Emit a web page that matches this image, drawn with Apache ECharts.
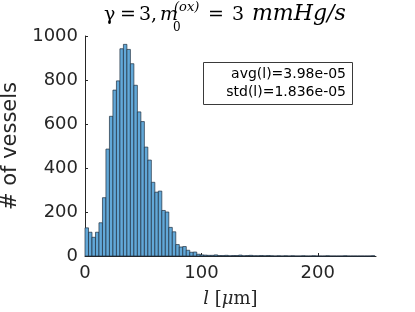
<!DOCTYPE html>
<html>
<head>
<meta charset="utf-8">
<script src="https://cdn.jsdelivr.net/npm/echarts@6/dist/echarts.min.js"></script>
<style>html,body{margin:0;padding:0;background:#fff;}#c{width:415px;height:312px;}</style>
</head>
<body>
<div id="c"></div>
<script>
// bin left edges (µm), bin width 3 µm
var binLeft = [0,3,6,9,12,15,18,21,24,27,30,33,36,39,42,45,48,51,54,57,60,63,66,69,72,75,78,81,84,87,90,93,96,99,102,105,108,111,114,117,120,123,126,129,132,135,138,141,144,147,150,153,156,159,162,165,168,171,174,177,180,183,186,189,192,195,198,201,204,207,210,213,216,219,222,225,228,231,234,237,240,243,246];
var binWidth = 3;
// counts per bin
var counts = [128,108,85,108,151,265,486,635,754,796,942,962,939,874,776,655,611,495,436,335,290,295,207,200,130,110,52,41,43,26,17,18,8,5,4,3,3,5,2,2,3,1,2,2,4,1,2,3,1,1,2,1,2,1,0,1,0,1,0,1,0,0,1,0,0,1,0,0,0,1,0,0,0,0,1,0,0,0,0,0,0,0,1];
var xTicks = [0,100,200];
var yTicks = [0,200,400,600,800,1000];
var statLines = ['avg(l)=3.98e-05','std(l)=1.836e-05'];

var data = binLeft.map(function(x, i){ return [x, x + binWidth, counts[i]]; });

var chart = echarts.init(document.getElementById('c'), null, {renderer:'canvas'});
var axisCol = '#262626';
var serif = 'DejaVu Serif';
function t(x, y, text, size, italic){
  var s = {text:text, fontFamily:serif, fontSize:size, fontStyle:italic?'italic':'normal', fill:'#000', verticalAlign:'bottom', align:'left'};
  return {type:'text', x:x, y:y, style:s, z:20};
}
chart.setOption({
  animation:false,
  backgroundColor:'#fff',
  grid:{left:85, right:39, top:36, bottom:56, outerBoundsMode:'none', containLabel:false},
  xAxis:{
    type:'value', min:0, max:250, interval:100,
    axisLine:{show:true, onZero:false, lineStyle:{color:axisCol, width:1}},
    axisTick:{show:true, inside:true, length:3, lineStyle:{color:axisCol}},
    splitLine:{show:false},
    axisLabel:{color:axisCol, fontFamily:'DejaVu Sans', fontSize:18, margin:8, showMaxLabel:false,
      formatter:function(v){ return xTicks.indexOf(v) >= 0 ? String(v) : ''; }},
    name:'{i|l} [{m|μ}m]', nameLocation:'middle', nameGap:34,
    nameTextStyle:{fontFamily:serif, fontSize:18, color:axisCol,
      rich:{i:{fontFamily:serif, fontStyle:'italic', fontSize:18, color:axisCol},
            m:{fontFamily:serif, fontStyle:'italic', fontSize:18, color:axisCol}}}
  },
  yAxis:{
    type:'value', min:0, max:1000, interval:200,
    axisLine:{show:true, lineStyle:{color:axisCol, width:1}},
    axisTick:{show:true, inside:true, length:3, lineStyle:{color:axisCol}},
    splitLine:{show:false},
    axisLabel:{color:axisCol, fontFamily:'DejaVu Sans', fontSize:18, margin:7,
      formatter:function(v){ return yTicks.indexOf(v) >= 0 ? String(v) : ''; }},
    name:'# of vessels', nameLocation:'middle', nameGap:60, nameRotate:90,
    nameTextStyle:{fontFamily:'DejaVu Sans', fontSize:21, color:axisCol}
  },
  graphic:[
    t(104, 25, 'γ', 19, false),
    t(120, 25, '=', 19, false),
    t(139, 25, '3,', 19, false),
    t(160, 25, 'm', 19, true),
    t(174, 14, '(ox)', 13, true),
    t(173, 34, '0', 12, false),
    t(208, 25, '=', 19, false),
    t(232, 25, '3', 19, false),
    t(252, 25, 'mmHg/s', 22, true),
    {type:'rect', shape:{x:203.5, y:62.5, width:149, height:42}, style:{fill:'#fff', stroke:'#3a3a3a', lineWidth:1}, z:10},
    {type:'text', x:346, y:74, style:{text:statLines[0], fontFamily:'DejaVu Sans', fontSize:14, fill:'#000', align:'right', verticalAlign:'middle'}, z:11},
    {type:'text', x:346, y:92, style:{text:statLines[1], fontFamily:'DejaVu Sans', fontSize:14, fill:'#000', align:'right', verticalAlign:'middle'}, z:11}
  ],
  series:[{
    type:'custom',
    data:data,
    encode:{x:[0,1], y:2},
    renderItem:function(params, api){
      var p0 = api.coord([api.value(0), api.value(2)]);
      var p1 = api.coord([api.value(1), 0]);
      return {type:'rect', shape:{x:p0[0], y:p0[1], width:p1[0]-p0[0], height:p1[1]-p0[1]},
        style:{fill:'#62a8d8', stroke:'#1f2f3f', lineWidth:0.7}};
    }
  }]
});
</script>
</body>
</html>
